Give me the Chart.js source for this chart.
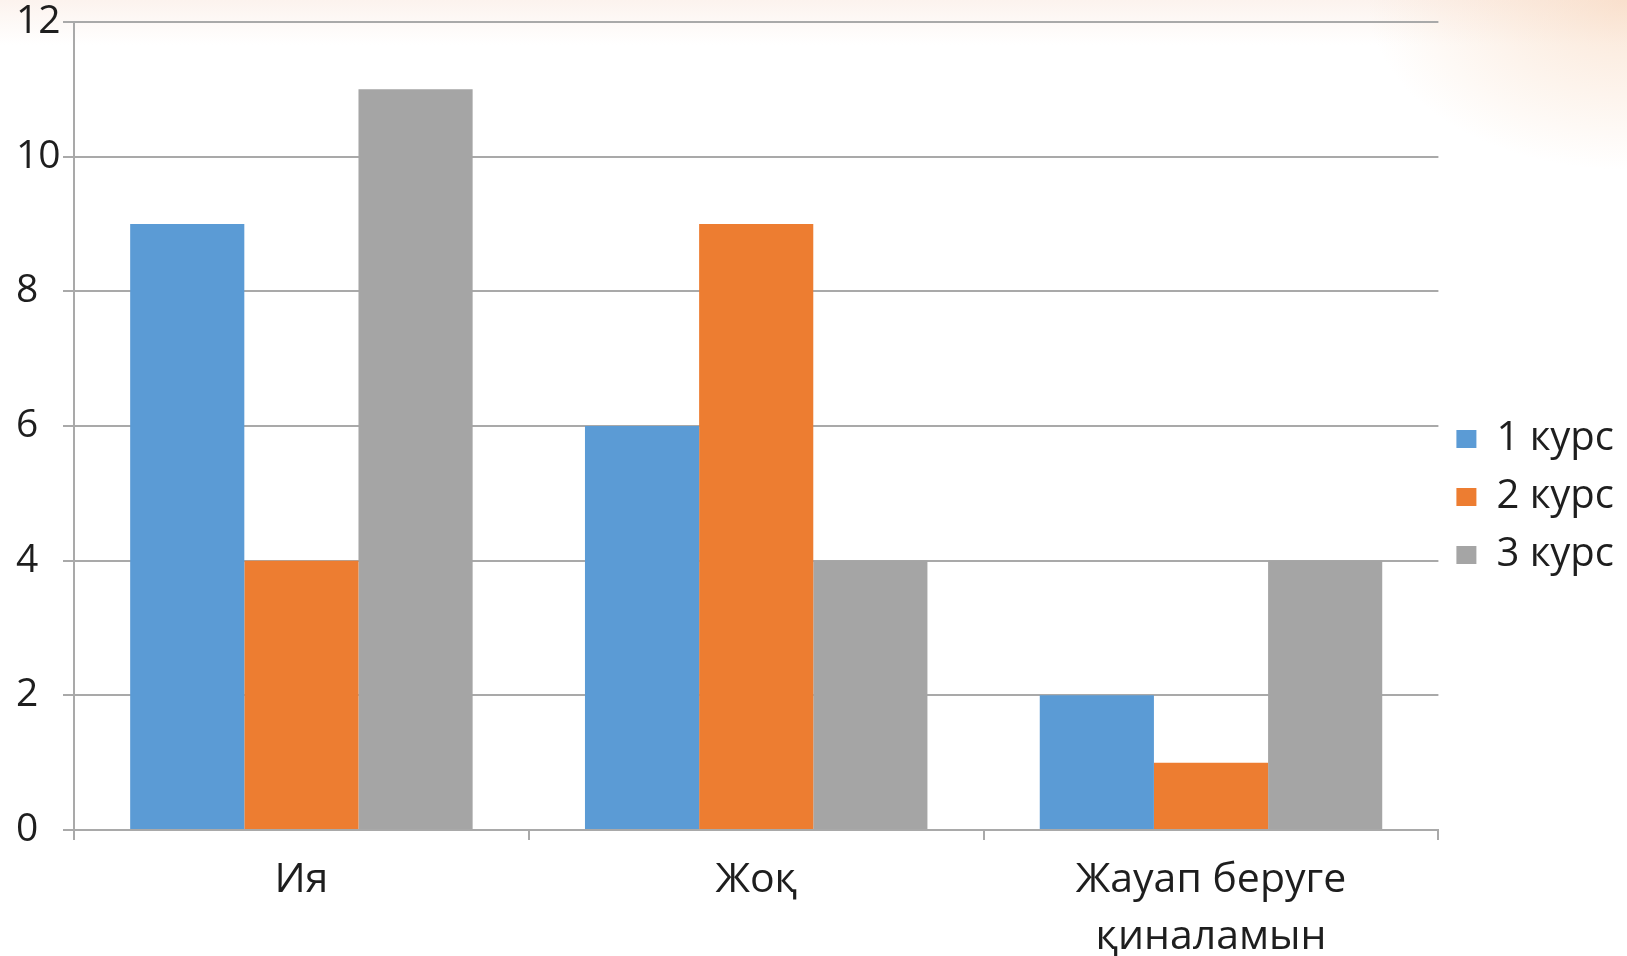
<!DOCTYPE html>
<html>
<head>
<meta charset="utf-8">
<script src="https://cdn.jsdelivr.net/npm/chart.js@4"></script>
<style>
  html, body { margin: 0; padding: 0; }
  body {
    width: 1627px; height: 956px; overflow: hidden;
    background:
      radial-gradient(ellipse 260px 170px at 100% 0%, rgba(246,205,172,0.5), rgba(255,255,255,0)),
      linear-gradient(to bottom, #fcf3ee 0px, #ffffff 45px);
  }
  #wrap { position: absolute; left: 0; top: 0; width: 1627px; height: 956px; }
</style>
</head>
<body>
<div id="wrap"><canvas id="c"></canvas></div>
<script>
const categories = ['Ия', 'Жоқ', ['Жауап беруге', 'қиналамын']];
const seriesNames = ['1 курс', '2 курс', '3 курс'];
const kurs1 = [9, 6, 2];
const kurs2 = [4, 9, 1];
const kurs3 = [11, 4, 4];
const yTicks = [0, 2, 4, 6, 8, 10, 12];

const colors = ['#5b9bd5', '#ed7d31', '#a5a5a5'];
const gridColor = '#a9a9a9';
const textColor = '#1e1e1e';
const fontFamily = '"Open Sans", "Liberation Sans", sans-serif';

new Chart(document.getElementById('c'), {
  type: 'bar',
  data: {
    labels: categories,
    datasets: [kurs1, kurs2, kurs3].map((d, i) => ({
      label: seriesNames[i],
      data: d,
      backgroundColor: colors[i],
      borderWidth: 0,
      categoryPercentage: 0.753,
      barPercentage: 1.0
    }))
  },
  options: {
    responsive: true,
    maintainAspectRatio: false,
    animation: false,
    layout: { padding: { top: 13, right: 3, bottom: 0, left: 16 } },
    plugins: {
      tooltip: { enabled: false },
      legend: {
        position: 'right',
        title: { display: true, text: ' ', padding: 0, font: { size: 10, lineHeight: 2.5 } },
        labels: {
          boxWidth: 20,
          boxHeight: 18,
          padding: 18,
          color: textColor,
          font: { family: fontFamily, size: 40 }
        }
      }
    },
    scales: {
      x: {
        afterFit: s => { s.height = 126; },
        grid: {
          drawOnChartArea: false,
          drawTicks: true,
          tickLength: 10,
          color: gridColor,
          lineWidth: 2,
          offset: true
        },
        border: { display: true, color: gridColor, width: 2 },
        ticks: {
          color: textColor,
          padding: 12,
          maxRotation: 0,
          font: { family: fontFamily, size: 41, lineHeight: 1.38 }
        }
      },
      y: {
        min: 0,
        max: 12,
        afterFit: s => { s.width = 58; },
        afterBuildTicks: s => { s.ticks = yTicks.map(v => ({ value: v })); },
        grid: {
          color: gridColor,
          lineWidth: 2,
          drawTicks: true,
          tickLength: 11
        },
        border: { display: true, color: gridColor, width: 2 },
        ticks: {
          color: textColor,
          padding: 8,
          crossAlign: 'far',
          font: { family: fontFamily, size: 39, lineHeight: 0.72 }
        }
      }
    }
  }
});
</script>
</body>
</html>
